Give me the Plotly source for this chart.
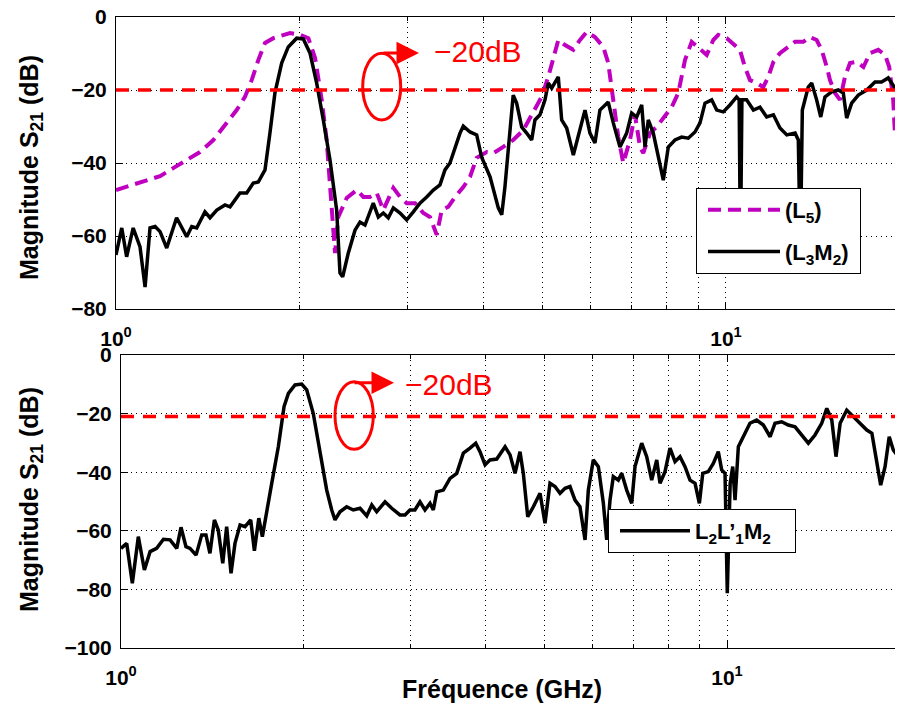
import plotly.graph_objects as go

# ---------------- data (frequency in GHz, magnitude in dB) ----------------
top_l5_freq = [1.000, 1.028, 1.067, 1.123, 1.181, 1.241, 1.306, 1.373, 1.444, 1.519,
               1.577, 1.627, 1.669, 1.711, 1.755, 1.811, 1.881, 1.929, 2.003, 2.067,
               2.120, 2.174, 2.215, 2.243, 2.271, 2.286, 2.314, 2.389, 2.481, 2.544,
               2.608, 2.676, 2.743, 2.795, 2.849, 2.922, 2.996, 3.092, 3.190, 3.272,
               3.356, 3.420, 3.506, 3.596, 3.710, 3.805, 3.902, 4.053, 4.155, 4.314,
               4.479, 4.652, 4.831, 4.986, 5.113, 5.211, 5.310, 5.446, 5.620, 5.764,
               5.910, 6.098, 6.293, 6.412, 6.496, 6.577, 6.659, 6.786, 6.960, 7.092,
               7.228, 7.318, 7.506, 7.699, 7.893, 8.147, 8.352, 8.460, 8.566, 8.785,
               9.066, 9.298, 9.533, 9.714, 10.03, 10.35, 10.54, 10.74, 10.95, 11.23,
               11.51, 11.73, 11.96, 12.26, 12.58, 12.98, 13.39, 13.73, 14.08, 14.35,
               14.63, 14.81, 15.09, 15.38, 15.67, 15.97, 16.38, 16.80, 17.22, 17.77,
               18.23, 18.52, 18.80, 18.92, 19.16, 19.51]
top_l5_db = [-47.4, -46.8, -46.0, -44.7, -43.6, -41.4, -39.2, -37.0, -33.7, -29.0,
             -25.5, -21.9, -17.3, -11.8, -7.1, -5.8, -4.9, -4.4, -4.9, -5.8,
             -11.2, -22.7, -33.7, -46.6, -61.1, -64.7, -54.8, -49.6, -47.4, -49.3,
             -49.3, -48.2, -52.9, -50.1, -46.8, -49.3, -51.0, -51.0, -53.7, -54.8,
             -59.7, -52.9, -52.0, -49.3, -46.6, -43.8, -38.6, -37.0, -37.3, -35.6,
             -33.7, -31.0, -26.3, -21.9, -16.4, -11.0, -6.3, -7.7, -9.0, -6.3,
             -4.1, -5.5, -8.2, -12.6, -19.2, -24.7, -32.9, -40.0, -33.7, -26.8,
             -35.6, -37.3, -31.8, -30.1, -27.7, -24.7, -20.8, -16.4, -11.8, -6.8,
             -9.0, -10.4, -6.3, -4.9, -5.8, -7.7, -9.0, -13.7, -17.3, -18.1,
             -19.2, -16.4, -12.3, -9.9, -8.5, -6.8, -6.8, -5.5, -6.3, -9.0,
             -13.7, -17.3, -20.8, -22.7, -16.4, -12.6, -12.3, -13.7, -9.9, -9.0,
             -10.4, -13.7, -22.7, -31.8, -22.7, -20.0]

top_l3m2_freq = [1.000, 1.022, 1.041, 1.067, 1.095, 1.116, 1.137, 1.159, 1.181, 1.211,
                 1.257, 1.306, 1.331, 1.356, 1.399, 1.426, 1.463, 1.509, 1.538, 1.597,
                 1.638, 1.679, 1.711, 1.755, 1.788, 1.822, 1.869, 1.916, 1.978, 2.028,
                 2.080, 2.133, 2.187, 2.243, 2.300, 2.329, 2.353, 2.403, 2.465, 2.512,
                 2.560, 2.608, 2.641, 2.692, 2.743, 2.795, 2.849, 2.922, 2.996, 3.072,
                 3.150, 3.231, 3.313, 3.397, 3.462, 3.528, 3.596, 3.664, 3.710, 3.805,
                 3.902, 3.976, 4.104, 4.182, 4.234, 4.289, 4.341, 4.396, 4.452, 4.479,
                 4.537, 4.624, 4.712, 4.802, 4.862, 4.955, 5.050, 5.113, 5.179, 5.244,
                 5.310, 5.378, 5.481, 5.620, 5.727, 5.873, 5.984, 6.098, 6.214, 6.333,
                 6.412, 6.535, 6.702, 6.874, 7.005, 7.139, 7.275, 7.366, 7.458, 7.600,
                 7.745, 7.893, 8.043, 8.249, 8.460, 8.673, 8.896, 9.066, 9.239, 9.475,
                 9.656, 9.899, 10.15, 10.41, 10.51, 10.56, 10.62, 10.81, 11.09, 11.37,
                 11.66, 11.96, 12.26, 12.58, 12.98, 13.14, 13.24, 13.34, 13.64, 13.82,
                 14.08, 14.30, 14.53, 14.90, 15.28, 15.57, 15.77, 16.07, 16.48, 17.01,
                 17.55, 17.99, 18.45, 18.80, 19.16, 19.51]
top_l3m2_db = [-65.2, -57.8, -65.7, -57.8, -63.0, -74.0, -57.8, -57.4, -58.8, -63.3,
               -55.0, -60.2, -57.4, -57.8, -53.4, -55.0, -52.9, -51.5, -52.0, -48.2,
               -48.2, -45.5, -45.2, -41.9, -31.8, -20.8, -12.6, -8.2, -5.8, -6.0,
               -9.9, -18.1, -28.2, -39.2, -52.9, -70.1, -71.2, -64.7, -58.4, -56.2,
               -57.0, -53.4, -51.0, -54.8, -53.7, -55.0, -52.3, -53.7, -55.6, -53.4,
               -51.0, -49.3, -47.4, -46.0, -41.9, -40.0, -35.6, -31.8, -29.9, -31.5,
               -32.3, -38.4, -43.8, -49.3, -52.3, -54.2, -46.6, -36.4, -25.5, -21.4,
               -23.6, -30.1, -31.8, -33.7, -28.2, -26.8, -22.7, -18.1, -19.5, -17.8,
               -16.4, -28.2, -30.4, -37.8, -32.9, -25.5, -31.8, -34.5, -25.5, -24.1,
               -23.3, -29.0, -35.6, -31.8, -26.3, -27.4, -24.1, -35.6, -28.2, -31.8,
               -38.4, -44.7, -35.6, -33.7, -32.9, -33.2, -31.5, -29.0, -23.6, -22.7,
               -25.5, -26.0, -24.1, -21.9, -22.7, -65.0, -22.7, -22.7, -25.5, -24.7,
               -27.4, -26.8, -30.4, -32.3, -31.8, -33.7, -65.0, -25.5, -19.2, -18.1,
               -22.7, -27.4, -21.9, -20.5, -20.0, -20.8, -27.7, -23.6, -21.4, -20.0,
               -17.8, -17.8, -16.7, -18.6, -20.8, -24.7]

bot_freq = [1.000, 1.022, 1.044, 1.068, 1.093, 1.117, 1.145, 1.175, 1.205, 1.236,
            1.256, 1.280, 1.300, 1.330, 1.359, 1.381, 1.402, 1.426, 1.447, 1.472,
            1.494, 1.519, 1.542, 1.572, 1.602, 1.637, 1.660, 1.688, 1.711, 1.740,
            1.773, 1.818, 1.858, 1.889, 1.937, 1.987, 2.025, 2.076, 2.130, 2.185,
            2.227, 2.255, 2.298, 2.357, 2.417, 2.480, 2.544, 2.593, 2.642, 2.727,
            2.797, 2.886, 2.942, 2.998, 3.055, 3.114, 3.174, 3.235, 3.276, 3.319,
            3.403, 3.491, 3.581, 3.672, 3.766, 3.849, 3.912, 3.988, 4.064, 4.169,
            4.303, 4.385, 4.469, 4.554, 4.612, 4.690, 4.791, 4.914, 5.008, 5.104,
            5.202, 5.302, 5.404, 5.507, 5.613, 5.719, 5.831, 5.904, 6.017, 6.133,
            6.251, 6.331, 6.411, 6.492, 6.616, 6.702, 6.831, 6.962, 7.050, 7.231,
            7.370, 7.511, 7.656, 7.752, 7.901, 8.052, 8.207, 8.364, 8.525, 8.688,
            8.856, 9.003, 9.120, 9.314, 9.493, 9.674, 9.800, 9.925, 10.01, 10.12,
            10.22, 10.31, 10.44, 10.64, 10.91, 11.19, 11.48, 11.78, 12.00, 12.31,
            12.62, 12.95, 13.29, 13.62, 13.97, 14.33, 14.61, 14.89, 15.13, 15.37,
            15.76, 16.16, 16.58, 17.01, 17.34, 17.66, 17.93, 18.23, 18.52, 18.81,
            19.17, 19.52]
bot_db = [-66.0, -64.3, -77.9, -62.0, -73.4, -67.1, -66.0, -62.9, -63.1, -66.0,
          -58.8, -65.4, -66.0, -68.3, -61.4, -61.4, -67.7, -56.3, -59.7, -71.1,
          -58.6, -74.5, -64.3, -58.0, -58.6, -56.3, -66.8, -55.7, -62.0, -54.0,
          -43.8, -31.3, -17.6, -13.1, -10.2, -9.9, -11.9, -19.9, -32.4, -46.1,
          -52.9, -56.3, -53.5, -51.8, -52.9, -52.3, -54.9, -51.2, -53.5, -50.1,
          -52.3, -54.6, -54.6, -52.9, -52.9, -50.1, -52.9, -50.6, -52.9, -46.7,
          -46.1, -42.1, -40.4, -33.5, -31.8, -30.1, -33.0, -37.5, -35.8, -35.5,
          -31.3, -34.1, -40.4, -33.0, -40.4, -55.2, -51.8, -47.2, -57.4, -43.8,
          -44.9, -47.2, -45.5, -44.9, -49.5, -51.8, -63.1, -46.1, -35.8, -38.1,
          -50.6, -63.1, -49.5, -41.5, -42.7, -40.4, -46.1, -50.6, -38.1, -30.1,
          -34.7, -42.7, -35.8, -43.8, -39.8, -31.8, -36.4, -34.7, -38.1, -42.7,
          -43.8, -50.6, -40.4, -39.8, -37.0, -33.0, -39.2, -40.4, -81.3, -43.8,
          -38.1, -49.5, -31.3, -27.9, -23.3, -22.2, -23.9, -27.9, -23.3, -22.8,
          -23.9, -24.5, -27.3, -30.1, -27.3, -23.3, -18.2, -22.2, -34.7, -23.3,
          -18.8, -21.1, -23.3, -25.6, -26.7, -37.0, -44.4, -38.1, -27.9, -32.4,
          -34.7, -30.1]

threshold_top = -20
threshold_bot = -21
xtick_vals = [1, 10]
xtick_text = ["<b>10<sup>0</sup></b>", "<b>10<sup>1</sup></b>"]
x_minor_vals = [2, 3, 4, 5, 6, 7, 8, 9, 20]
top_yticks = [-80, -60, -40, -20, 0]
bot_yticks = [-100, -80, -60, -40, -20, 0]
label_20db = "\u221220dB"
ylabel = "<b>Magnitude S<sub>21</sub> (dB)</b>"
xlabel = "<b>Fréquence (GHz)</b>"
name_l5 = "<b>(L<sub>5</sub>)</b>"
name_l3m2 = "<b>(L<sub>3</sub>M<sub>2</sub>)</b>"
name_bot = "<b>L<sub>2</sub>L\u2019<sub>1</sub>M<sub>2</sub></b>"


def ytext(vals):
    return ["<b>" + str(v).replace("-", "\u2212") + "</b>" for v in vals]


FONT = "Liberation Sans, Arial, Helvetica, sans-serif"
# The page body has an 8px margin; work in reference-pixel coordinates and shift.
OFF = 8
W, H = 903 - OFF, 705 - OFF
ML, MR, MT, MB = 116 - OFF, 0, 17 - OFF, 705 - 648
PW, PH = W - ML - MR, H - MT - MB


def px(xp):
    return (xp - OFF - ML) / PW


def py(yp):
    return (H - MB - (yp - OFF)) / PH


PAD = "\u00a0"

fig = go.Figure()
fig.add_trace(go.Scatter(x=top_l5_freq, y=top_l5_db, mode="lines",
                         name=name_l5, legend="legend", legendgroup="a",
                         line=dict(color="#C000C0", width=4, dash="13px,7px"),
                         xaxis="x", yaxis="y"))
fig.add_trace(go.Scatter(x=top_l3m2_freq, y=top_l3m2_db, mode="lines",
                         name=name_l3m2 + PAD, legend="legend", legendgroup="b",
                         line=dict(color="black", width=3.5),
                         xaxis="x", yaxis="y"))
fig.add_trace(go.Scatter(x=bot_freq, y=bot_db, mode="lines",
                         name=name_bot + PAD * 3, legend="legend2",
                         line=dict(color="black", width=3.5),
                         xaxis="x2", yaxis="y2"))

tickfont = dict(family=FONT, size=21, color="black")
grid = dict(showgrid=True, gridcolor="black", griddash="1px,4px", gridwidth=1)
common_x = dict(type="log", tickmode="array", tickvals=xtick_vals, ticktext=xtick_text,
                ticks="inside", ticklen=7, tickcolor="black", showline=True, linecolor="black",
                linewidth=1, mirror="allticks", tickfont=tickfont, zeroline=False,
                automargin=False, ticklabeloverflow="allow",
                minor=dict(tickmode="array", tickvals=x_minor_vals, ticks="inside", ticklen=4,
                           tickcolor="black", showgrid=True, gridcolor="black",
                           griddash="1px,4px", gridwidth=1),
                ticklabelstandoff=11, **grid)
common_y = dict(tickmode="array", ticks="inside", ticklen=7, tickcolor="black",
                showline=True, linecolor="black", linewidth=1, mirror="allticks",
                tickfont=tickfont, zeroline=False, ticklabelstandoff=4,
                ticklabeloverflow="allow", automargin=False, **grid)

legfont = dict(family=FONT, size=22, color="black")
fig.update_layout(
    width=W, height=H, autosize=False,
    margin=dict(l=ML, r=MR, t=MT, b=MB, pad=0, autoexpand=False),
    paper_bgcolor="white", plot_bgcolor="white",
    font=dict(family=FONT, color="black"),
    xaxis=dict(domain=[0, 1], anchor="y", range=[0, 1.2902], **common_x),
    yaxis=dict(domain=[py(309), 1], anchor="x", range=[-80, 0], tickvals=top_yticks,
               ticktext=ytext(top_yticks), **common_y),
    xaxis2=dict(domain=[px(121), 1], anchor="y2", range=[0, 1.2904], **common_x),
    yaxis2=dict(domain=[0, py(355)], anchor="x2", range=[-100, 0], tickvals=bot_yticks,
                ticktext=ytext(bot_yticks), **common_y),
    legend=dict(x=px(696), y=py(188), xanchor="left", yanchor="top",
                bgcolor="white", bordercolor="black", borderwidth=1,
                font=legfont, itemwidth=72, tracegroupgap=10, traceorder="grouped",
                indentation=6),
    legend2=dict(x=px(608), y=py(509), xanchor="left", yanchor="top",
                 bgcolor="white", bordercolor="black", borderwidth=1,
                 font=legfont, itemwidth=70, indentation=6),
    showlegend=True,
)

# axis titles
fig.add_annotation(xref="paper", yref="paper", x=px(31), y=py(168), text=ylabel,
                   textangle=-90, showarrow=False, xanchor="center", yanchor="middle",
                   font=dict(family=FONT, size=25, color="black"))
fig.add_annotation(xref="paper", yref="paper", x=px(31), y=py(500), text=ylabel,
                   textangle=-90, showarrow=False, xanchor="center", yanchor="middle",
                   font=dict(family=FONT, size=25, color="black"))
fig.add_annotation(xref="paper", yref="paper", x=px(502), y=py(689), text=xlabel,
                   showarrow=False, xanchor="center", yanchor="middle",
                   font=dict(family=FONT, size=25, color="black"))

# threshold lines
fig.add_shape(type="line", xref="x domain", yref="y", x0=0, x1=1,
              y0=threshold_top, y1=threshold_top, layer="above",
              line=dict(color="red", width=3.5, dash="13px,9px"))
fig.add_shape(type="line", xref="x2 domain", yref="y2", x0=0, x1=1,
              y0=threshold_bot, y1=threshold_bot, layer="above",
              line=dict(color="red", width=3.5, dash="13px,9px"))

# ellipses
fig.add_shape(type="circle", xref="paper", yref="paper",
              x0=px(362.7), x1=px(400.7), y0=py(120), y1=py(53.3), layer="above",
              line=dict(color="red", width=3))
fig.add_shape(type="circle", xref="paper", yref="paper",
              x0=px(335), x1=px(373.3), y0=py(449.3), y1=py(381.7), layer="above",
              line=dict(color="red", width=3))

# arrows
fig.add_annotation(xref="paper", yref="paper", x=px(419), y=py(53), ax=-37, ay=0,
                   text="", showarrow=True, arrowhead=2, arrowsize=1.5, arrowwidth=3,
                   arrowcolor="red")
fig.add_annotation(xref="paper", yref="paper", x=px(394), y=py(382.7), ax=-41, ay=0,
                   text="", showarrow=True, arrowhead=2, arrowsize=1.5, arrowwidth=3,
                   arrowcolor="red")

# -20dB labels
fig.add_annotation(xref="paper", yref="paper", x=px(432), y=py(51), xanchor="left",
                   yanchor="middle", text=label_20db, showarrow=False,
                   font=dict(family=FONT, size=30, color="red"))
fig.add_annotation(xref="paper", yref="paper", x=px(403), y=py(384), xanchor="left",
                   yanchor="middle", text=label_20db, showarrow=False,
                   font=dict(family=FONT, size=30, color="red"))

fig.write_html("out.html")
